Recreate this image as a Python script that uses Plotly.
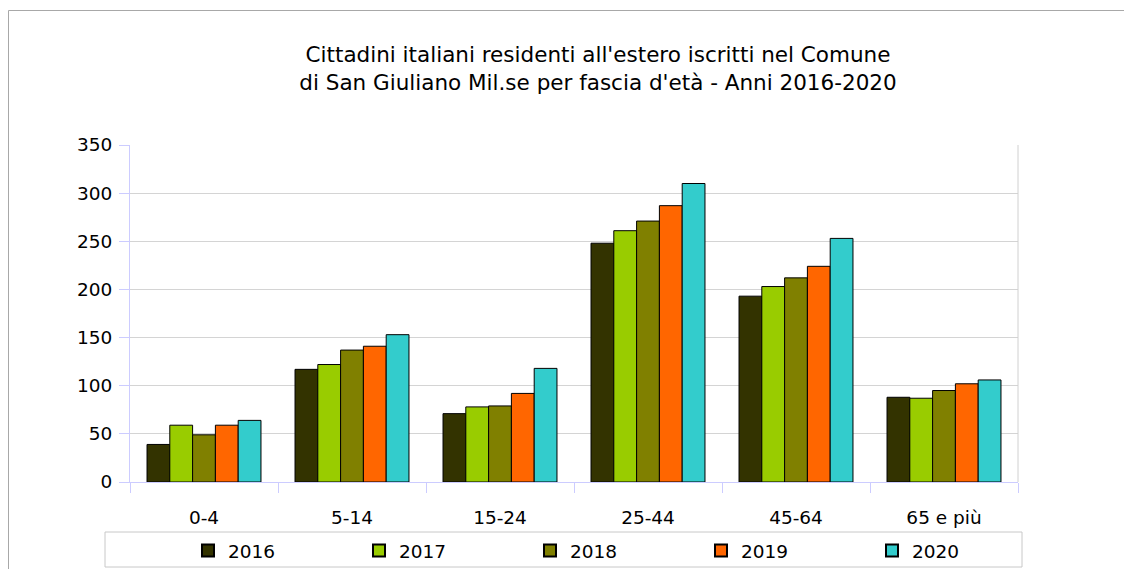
import plotly.graph_objects as go

categories = ["0-4", "5-14", "15-24", "25-44", "45-64", "65 e più"]
years = ["2016", "2017", "2018", "2019", "2020"]
v2016 = [39, 117, 71, 248, 193, 88]
v2017 = [59, 122, 78, 261, 203, 87]
v2018 = [49, 137, 79, 271, 212, 95]
v2019 = [59, 141, 92, 287, 224, 102]
v2020 = [64, 153, 118, 310, 253, 106]
series = [v2016, v2017, v2018, v2019, v2020]
colors = ["#333300", "#99cc00", "#808000", "#ff6600", "#33cccc"]

# page has an 8px body margin; figure coords = screen coords - 8
W, H = 1124, 561
L, R, T, B = 122, 1010, 137, 474

fig = go.Figure()
for name, vals, c in zip(years, series, colors):
    fig.add_trace(go.Bar(x=categories, y=vals, name=name, marker_color=c,
                         marker_line_color="#000000", marker_line_width=1))

def px_x(p):
    return (p - L) / (R - L)

def px_y(p):
    return (B - p) / (B - T)

font = "DejaVu Sans, Verdana, sans-serif"
fig.update_layout(
    width=W, height=H,
    margin=dict(l=L, r=W - R, t=T, b=H - B, pad=0, autoexpand=False),
    paper_bgcolor="white", plot_bgcolor="white",
    font=dict(family=font, size=18.5, color="#000000"),
    title=dict(text="Cittadini italiani residenti all'estero iscritti nel Comune<br>di San Giuliano Mil.se per fascia d'età - Anni 2016-2020",
               x=590 / W, xanchor="center", xref="container",
               y=1 - 54 / H, yanchor="middle", yref="container",
               font=dict(size=21.5, family=font)),
    barmode="group", bargap=0.23, bargroupgap=0,
    showlegend=True,
    legend=dict(orientation="h", x=px_x(180), xanchor="left",
                y=px_y(543), yanchor="middle",
                entrywidth=126, entrywidthmode="pixels",
                font=dict(size=18.5, family=font),
                bgcolor="rgba(0,0,0,0)", borderwidth=0,
                itemsizing="constant"),
    xaxis=dict(type="category", tickson="boundaries", ticks="outside", ticklen=10,
               tickcolor="#ccccff", showline=True, linecolor="#ccccff", linewidth=1,
               showgrid=False, ticklabelstandoff=19, tickfont=dict(size=18.5)),
    yaxis=dict(range=[0, 350], dtick=50, tick0=0, ticks="outside", ticklen=10,
               tickcolor="#ccccff", showline=True, linecolor="#ccccff", linewidth=1,
               showgrid=True, gridcolor="#d4d4d4", gridwidth=1, zeroline=False,
               ticklabelstandoff=3, tickfont=dict(size=18.5)),
    shapes=[
        dict(type="line", xref="paper", yref="paper", x0=1, x1=1, y0=0, y1=1,
             line=dict(color="#d0d0d0", width=1)),
        dict(type="rect", xref="paper", yref="paper", x0=px_x(97), x1=px_x(1014),
             y0=px_y(524), y1=px_y(559), line=dict(color="#c8c8c8", width=1),
             fillcolor="rgba(0,0,0,0)"),
        dict(type="rect", xref="paper", yref="paper", x0=px_x(0.5), x1=px_x(1140),
             y0=px_y(2.5), y1=px_y(600), line=dict(color="#a8a8a8", width=1),
             fillcolor="rgba(0,0,0,0)"),
    ],
)

fig.write_html("out.html")
